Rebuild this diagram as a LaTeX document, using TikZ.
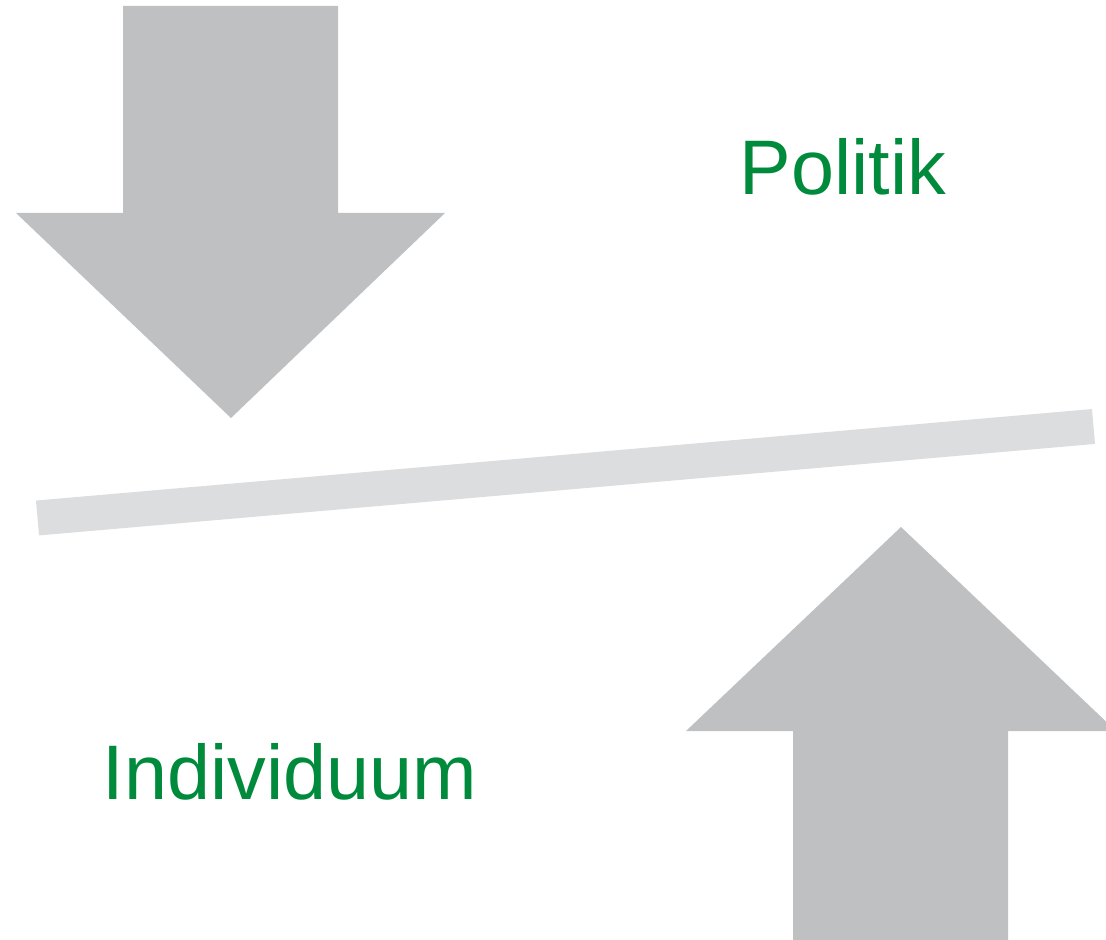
\documentclass[tikz,border=0pt]{standalone}
\usepackage{fontspec}
\setmainfont{Liberation Sans}
\usetikzlibrary{positioning}
\definecolor{arrowgray}{HTML}{BFC0C2}
\definecolor{beamgray}{HTML}{DCDDDE}
\definecolor{labelgreen}{HTML}{008A3C}
\tikzset{bigarrow/.style={fill=arrowgray, draw=none},
         beam/.style={line width=35pt*0.2846, draw=beamgray, line cap=butt},
         label/.style={text=labelgreen, font=\fontsize{22}{26}\selectfont, inner sep=0pt}}

\begin{document}
\begin{tikzpicture}[x=0.01cm, y=-0.01cm]
\useasboundingbox (0,0) rectangle (1106,940);
\clip (0,0) rectangle (1106,940);

% Pfeile
\fill[bigarrow] (123,6) -- (338,6) -- (338,213) -- (445,213) -- (231,418) -- (16,213) -- (123,213) -- cycle;
\fill[bigarrow] (793,945) -- (1008,945) -- (1008,731) -- (1116,731) -- (901,527) -- (686,731) -- (793,731) -- cycle;

% Balken
\coordinate (beamL) at (37.5,518);
\coordinate (beamR) at (1093.5,426.5);
\draw[beam] (beamL) -- (beamR);

% Texte
\node[label] (politik) at (843,167) {Politik};
\node[label] (individuum) at (290,772) {Individuum};

\end{tikzpicture}
\end{document}
